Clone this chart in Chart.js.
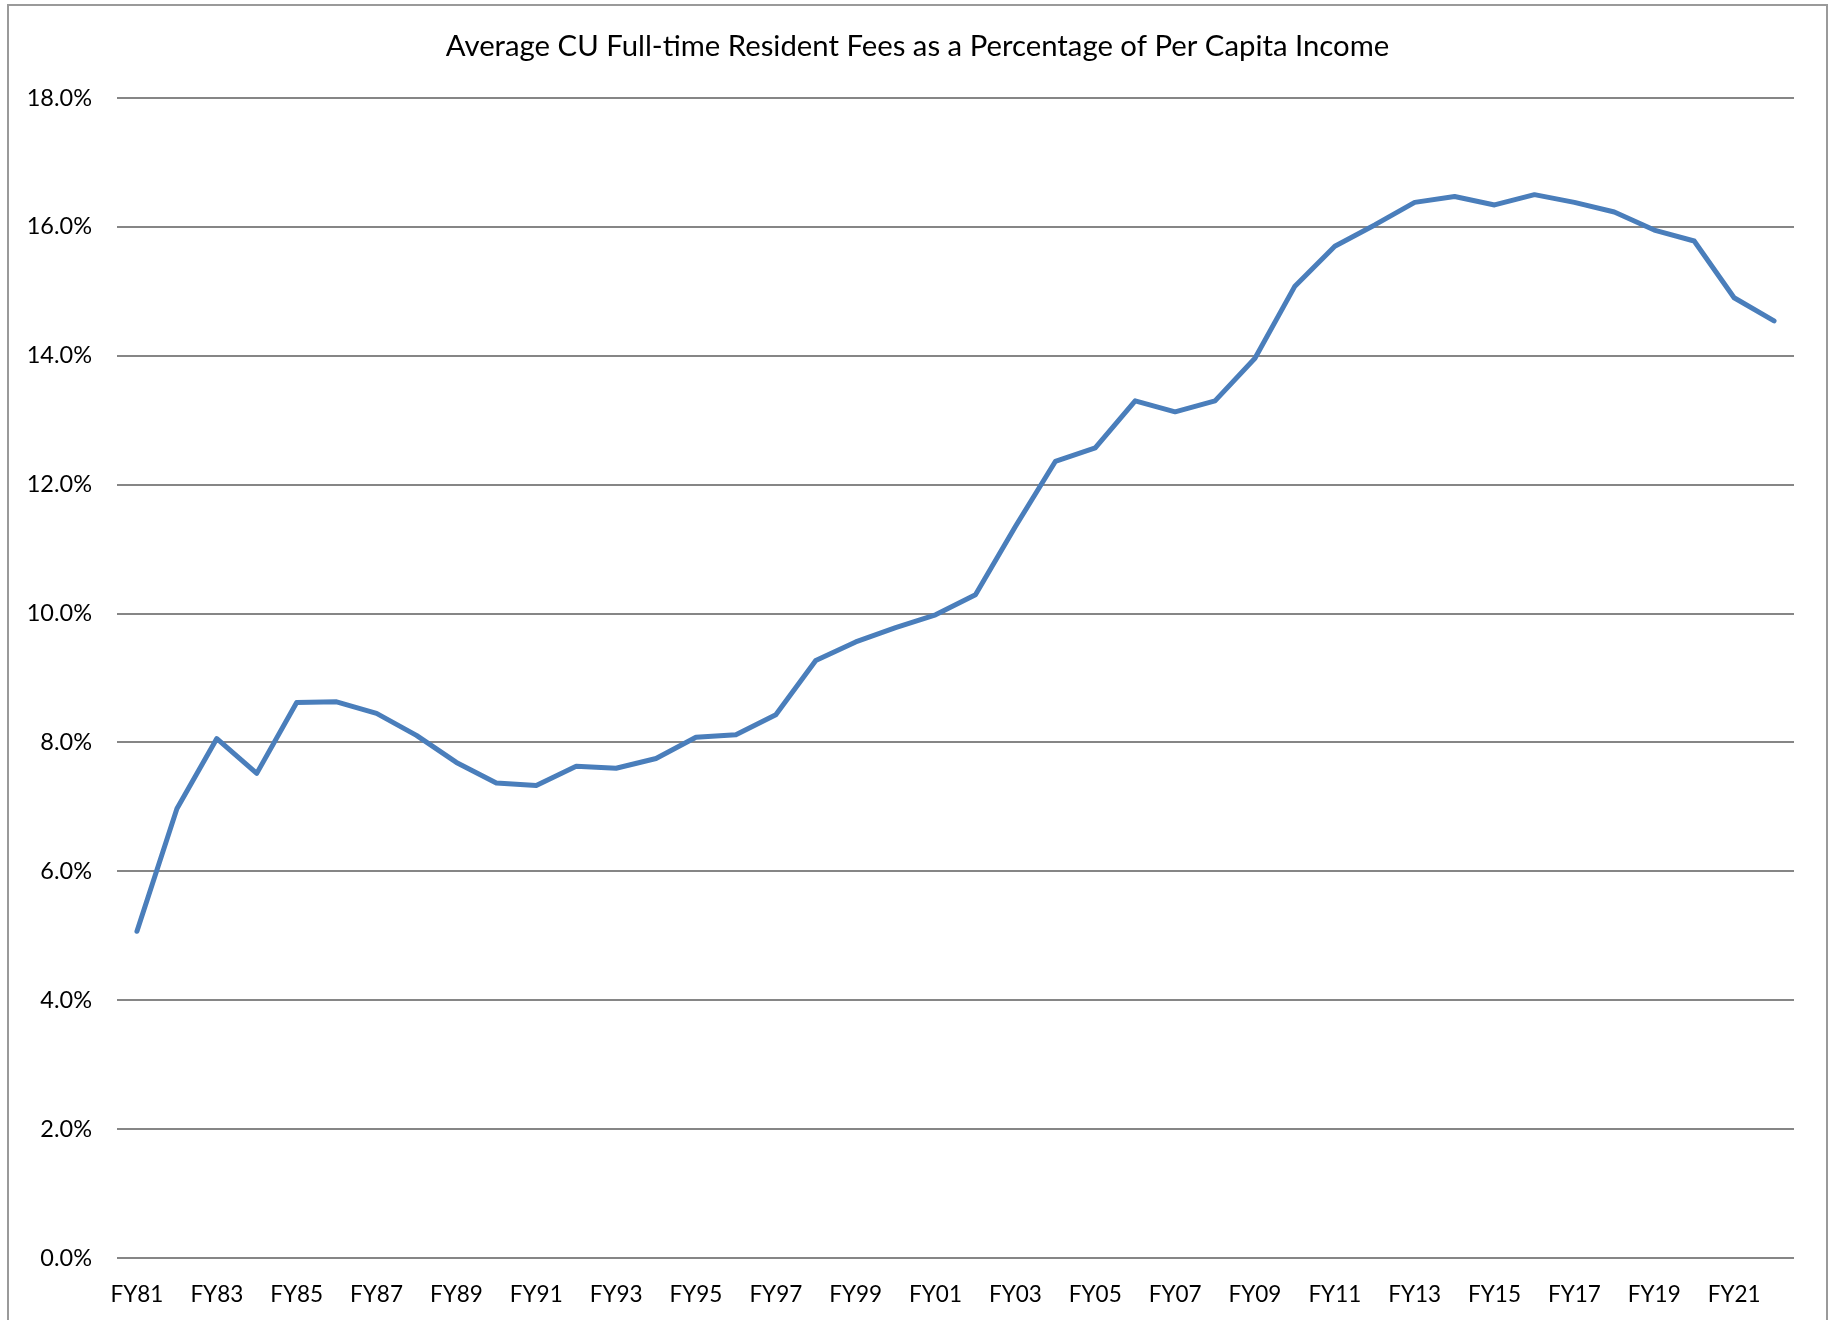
<!DOCTYPE html>
<html>
<head>
<meta charset="utf-8">
<style>
  html, body { margin: 0; padding: 0; background: #fff; }
  #wrap { position: relative; width: 1835px; height: 1320px; overflow: hidden; }
  canvas { display: block; }
</style>
<script src="https://cdn.jsdelivr.net/npm/chart.js@4/dist/chart.umd.min.js"></script>
</head>
<body>
<div id="wrap"><canvas id="c" width="1835" height="1320"></canvas></div>
<script>
const titleText = 'Average CU Full-time Resident Fees as a Percentage of Per Capita Income';

const categories = [
  'FY81','FY82','FY83','FY84','FY85','FY86','FY87','FY88','FY89','FY90',
  'FY91','FY92','FY93','FY94','FY95','FY96','FY97','FY98','FY99','FY00',
  'FY01','FY02','FY03','FY04','FY05','FY06','FY07','FY08','FY09','FY10',
  'FY11','FY12','FY13','FY14','FY15','FY16','FY17','FY18','FY19','FY20',
  'FY21','FY22'
];

// Fees as % of per capita income
const feePercent = [
  5.07, 6.97, 8.06, 7.52, 8.62, 8.63, 8.45, 8.11, 7.69, 7.37,
  7.33, 7.63, 7.60, 7.75, 8.08, 8.12, 8.43, 9.27, 9.56, 9.78,
  9.98, 10.29, 11.35, 12.36, 12.57, 13.30, 13.13, 13.30, 13.96, 15.08,
  15.70, 16.03, 16.38, 16.47, 16.34, 16.50, 16.38, 16.23, 15.95, 15.78,
  14.90, 14.54
];

const yTickMin = 0;
const yTickMax = 18;
const yTickStep = 2;

const FONT = "Lato, 'Noto Sans', 'Liberation Sans', sans-serif";

const framePlugin = {
  id: 'frame',
  beforeDraw(chart) {
    const ctx = chart.ctx;
    ctx.save();
    ctx.fillStyle = '#ffffff';
    ctx.fillRect(0, 0, chart.width, chart.height);
    ctx.strokeStyle = '#9a9a9a';
    ctx.lineWidth = 2;
    ctx.strokeRect(8, 5, 1819, 1340);
    ctx.restore();
  }
};

new Chart(document.getElementById('c'), {
  type: 'line',
  data: {
    labels: categories,
    datasets: [{
      label: 'Fees %',
      data: feePercent,
      yAxisID: 'y',
      borderColor: '#4a7ebb',
      backgroundColor: '#4a7ebb',
      borderWidth: 5,
      pointRadius: 0,
      pointHoverRadius: 0,
      tension: 0,
      borderJoinStyle: 'round',
      borderCapStyle: 'round',
      fill: false
    }]
  },
  options: {
    responsive: false,
    animation: false,
    events: [],
    layout: { padding: { left: 0, right: 0, top: 0, bottom: 0 } },
    plugins: {
      legend: { display: false },
      tooltip: { enabled: false },
      title: {
        display: true,
        text: titleText,
        color: '#000000',
        font: { family: FONT, size: 29.3, weight: 'normal', lineHeight: 1.2 },
        padding: { top: 29, bottom: 33.8 }
      }
    },
    scales: {
      x: {
        type: 'category',
        offset: true,
        grid: { display: false, drawTicks: false },
        border: { display: false },
        ticks: {
          autoSkip: false,
          maxRotation: 0,
          minRotation: 0,
          padding: 23,
          color: '#000000',
          font: { family: FONT, size: 22.5 },
          callback: function(value, index) {
            return index % 2 === 0 ? this.getLabelForValue(value) : '';
          }
        },
        afterFit(scale) { scale.height = 62; }
      },
      y: {
        position: 'left',
        min: yTickMin,
        max: yTickMax,
        grid: { color: '#868686', lineWidth: 2, drawTicks: false },
        border: { display: false },
        ticks: {
          stepSize: yTickStep,
          padding: 25,
          color: '#000000',
          font: { family: FONT, size: 23.5 },
          callback: (v) => Number(v).toFixed(1) + '%'
        },
        afterFit(scale) { scale.width = 117; }
      },
      yRightSpacer: {
        type: 'linear',
        position: 'right',
        min: yTickMin,
        max: yTickMax,
        grid: { display: false, drawTicks: false },
        border: { display: false },
        ticks: { display: false },
        afterFit(scale) { scale.width = 41; }
      }
    }
  },
  plugins: [framePlugin]
});
</script>
</body>
</html>
